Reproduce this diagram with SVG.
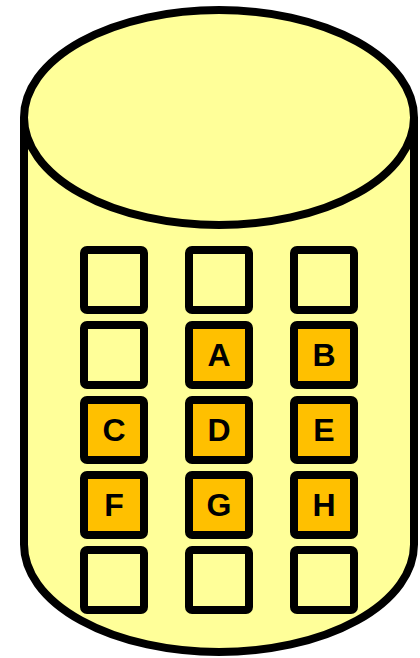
<svg xmlns="http://www.w3.org/2000/svg" width="420" height="658" viewBox="0 0 420 658">
<style>
.cyl{fill:#FFFF99;stroke:#000;stroke-width:8}
.sq{fill:#FFFF99;stroke:#000;stroke-width:8}
.on{fill:#FFC000}
.t{font-family:"Liberation Sans",Arial,sans-serif;font-weight:bold;font-size:32px;text-anchor:middle;fill:#000}
</style>
<rect width="420" height="658" fill="#fff"/>
<g id="cylinder">
<path class="cyl" d="M24,117.5 L24,544.5 A195,107.5 0 0 0 414,544.5 L414,117.5"/>
<ellipse class="cyl" cx="219" cy="117.5" rx="195" ry="107.5"/>
</g>
<g id="slots">
<g id="r1c1"><rect class="sq" x="84" y="250" width="60" height="60" rx="3"/></g>
<g id="r1c2"><rect class="sq" x="189" y="250" width="60" height="60" rx="3"/></g>
<g id="r1c3"><rect class="sq" x="294" y="250" width="60" height="60" rx="3"/></g>
<g id="r2c1"><rect class="sq" x="84" y="325" width="60" height="60" rx="3"/></g>
<g id="A"><rect class="sq on" x="189" y="325" width="60" height="60" rx="3"/><text class="t" x="219" y="366">A</text></g>
<g id="B"><rect class="sq on" x="294" y="325" width="60" height="60" rx="3"/><text class="t" x="324" y="366">B</text></g>
<g id="C"><rect class="sq on" x="84" y="400" width="60" height="60" rx="3"/><text class="t" x="114" y="441">C</text></g>
<g id="D"><rect class="sq on" x="189" y="400" width="60" height="60" rx="3"/><text class="t" x="219" y="441">D</text></g>
<g id="E"><rect class="sq on" x="294" y="400" width="60" height="60" rx="3"/><text class="t" x="324" y="441">E</text></g>
<g id="F"><rect class="sq on" x="84" y="475" width="60" height="60" rx="3"/><text class="t" x="114" y="516">F</text></g>
<g id="G"><rect class="sq on" x="189" y="475" width="60" height="60" rx="3"/><text class="t" x="219" y="516">G</text></g>
<g id="H"><rect class="sq on" x="294" y="475" width="60" height="60" rx="3"/><text class="t" x="324" y="516">H</text></g>
<g id="r5c1"><rect class="sq" x="84" y="550" width="60" height="60" rx="3"/></g>
<g id="r5c2"><rect class="sq" x="189" y="550" width="60" height="60" rx="3"/></g>
<g id="r5c3"><rect class="sq" x="294" y="550" width="60" height="60" rx="3"/></g>
</g>
<g id="connectors"/>
</svg>
